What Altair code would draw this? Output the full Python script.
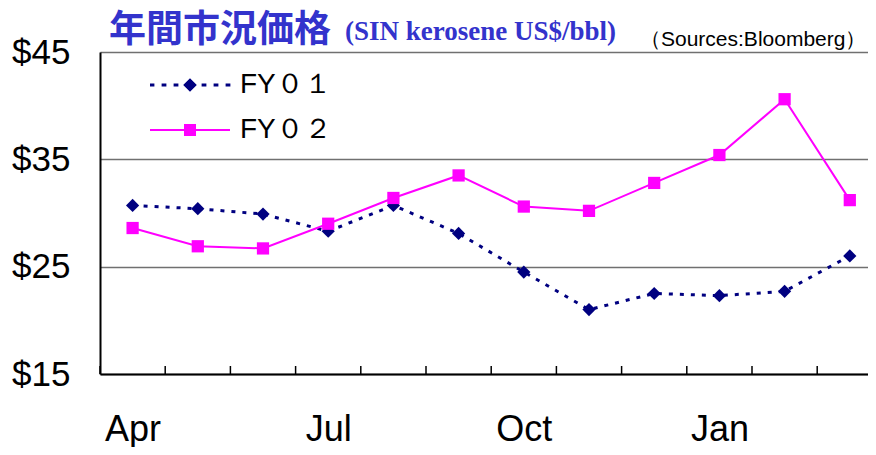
import json
import altair as alt
import pandas as pd

# ---- data ----
months = ["Apr", "May", "Jun", "Jul", "Aug", "Sep", "Oct", "Nov", "Dec", "Jan", "Feb", "Mar"]
fy01 = [30.7, 30.4, 29.9, 28.3, 30.7, 28.1, 24.5, 21.0, 22.5, 22.3, 22.7, 26.0]
fy02 = [28.6, 26.9, 26.7, 29.0, 31.4, 33.5, 30.6, 30.2, 32.8, 35.4, 40.6, 31.2]
series_names = ["FY０１", "FY０２"]
series_colors = ["#000080", "#FF00FF"]
y_ticks = [15, 25, 35, 45]
labeled_months = ["Apr", "Jul", "Oct", "Jan"]
title_main = "年間市況価格"
title_sub = "(SIN kerosene US$/bbl)"
source_note = "（Sources:Bloomberg）"

# each month occupies one slot [i, i+1); values sit in the middle of the slot
slot = list(range(len(months)))
df = pd.DataFrame({
    "month": months * 2,
    "pos": [i + 0.5 for i in slot] * 2,
    "series": [series_names[0]] * len(months) + [series_names[1]] * len(months),
    "price": fy01 + fy02,
})
ticks_df = pd.DataFrame({"edge": slot})
text_df = pd.DataFrame({"main": [title_main], "sub": [title_sub], "src": [source_note]})

W, H = 768, 322
SLOT_PX = 65.2
VISIBLE_SLOTS = W / SLOT_PX  # the chart is cut at the right, part way through the last month
BLUE = "#3333CC"

x_scale = alt.Scale(domain=[0, VISIBLE_SLOTS], nice=False, zero=False)
x_enc = alt.X(
    "pos:Q", scale=x_scale,
    axis=alt.Axis(
        title=None, ticks=False, grid=False, domainColor="black", domainWidth=2,
        values=[months.index(m) + 0.5 for m in labeled_months],
        labelExpr=json.dumps(months) + "[floor(datum.value)]",
        labelOverlap=False, labelAngle=0, labelAlign="center", labelFont="Liberation Sans",
        labelFontSize=36, labelColor="black", labelBaseline="top", labelPadding=38,
    ),
)
y_enc = alt.Y(
    "price:Q",
    scale=alt.Scale(domain=[15, 45], nice=False, zero=False),
    axis=alt.Axis(
        title=None, values=y_ticks, ticks=False, grid=True, gridColor="#707070",
        gridWidth=1.5, domainColor="black", domainWidth=2,
        labelExpr="'$' + datum.value", labelFont="Liberation Sans", labelFontSize=35,
        labelColor="black", labelPadding=30, labelBaseline="middle",
    ),
)


# legend glyphs: custom filled paths (line segment + marker), unit = half the symbol width
def rect(x0, x1, hh):
    return f"M{x0:.4f},{-hh:.4f}L{x1:.4f},{-hh:.4f}L{x1:.4f},{hh:.4f}L{x0:.4f},{hh:.4f}Z"


dash_centers = [-0.95, -0.65, -0.35, 0.35, 0.65, 0.95]
glyph1 = "".join(rect(c - 0.06, c + 0.06, 0.04) for c in dash_centers) + \
    "M0,-0.17L0.17,0L0,0.17L-0.17,0Z"
glyph2 = rect(-1, 1, 0.027) + rect(-0.15, 0.15, 0.15)

legend = alt.Legend(
    title=None, orient="none", legendX=50, legendY=13, padding=0,
    symbolSize=6400, clipHeight=40, rowPadding=5, labelOffset=10, symbolOffset=0,
    symbolStrokeWidth=0, symbolOpacity=1,
    labelFont="Liberation Sans", labelFontSize=28,
    labelColor="black",
)

base = alt.Chart(df)
line1 = base.transform_filter(alt.datum.series == series_names[0]).mark_line(
    strokeDash=[4, 7], strokeWidth=3, color=series_colors[0]).encode(x=x_enc, y=y_enc)
pts1 = base.transform_filter(alt.datum.series == series_names[0]).mark_point(
    shape="diamond", size=175, filled=True, opacity=1, color=series_colors[0]).encode(x=x_enc, y=y_enc)
line2 = base.transform_filter(alt.datum.series == series_names[1]).mark_line(
    strokeWidth=2, color=series_colors[1]).encode(x=x_enc, y=y_enc)
pts2 = base.transform_filter(alt.datum.series == series_names[1]).mark_point(
    shape="square", size=150, filled=True, opacity=1, color=series_colors[1]).encode(x=x_enc, y=y_enc)

# layer with no rows: carries the series scales for the legend only
legend_layer = base.transform_filter("false").mark_point(filled=True, opacity=1).encode(
    x=x_enc, y=y_enc,
    color=alt.Color("series:N", scale=alt.Scale(domain=series_names, range=series_colors), legend=legend),
    shape=alt.Shape("series:N", scale=alt.Scale(domain=series_names, range=[glyph1, glyph2]), legend=legend),
)

xticks = alt.Chart(ticks_df).mark_rule(color="black", strokeWidth=1.5).encode(
    x=alt.X("edge:Q", scale=x_scale),
    y=alt.value(H - 8), y2=alt.value(H),
)

main = alt.Chart(text_df).mark_text(
    align="left", baseline="alphabetic", font="Noto Sans CJK JP", fontSize=37,
    fontWeight="bold", color=BLUE,
).encode(x=alt.value(9), y=alt.value(-10), text="main:N")
sub = alt.Chart(text_df).mark_text(
    align="left", baseline="alphabetic", font="Liberation Serif", fontSize=27,
    fontWeight="bold", color=BLUE,
).encode(x=alt.value(245), y=alt.value(-12), text="sub:N")
src = alt.Chart(text_df).mark_text(
    align="left", baseline="alphabetic", font="Liberation Sans",
    fontSize=21, color="black",
).encode(x=alt.value(540), y=alt.value(-6), text="src:N")

# whole chart kept inside the page's 8px margins: 92+768 = 860 wide, 44+322+73 = 439 high
chart = alt.layer(xticks, line1, pts1, line2, pts2, legend_layer, main, sub, src).properties(
    width=W, height=H,
    autosize=alt.AutoSizeParams(type="none"),
    padding={"left": 92, "top": 44, "right": 0, "bottom": 73},
).configure_view(stroke=None).configure(background="white")

chart.save("out.html", embed_options={"renderer": "svg", "actions": False})
